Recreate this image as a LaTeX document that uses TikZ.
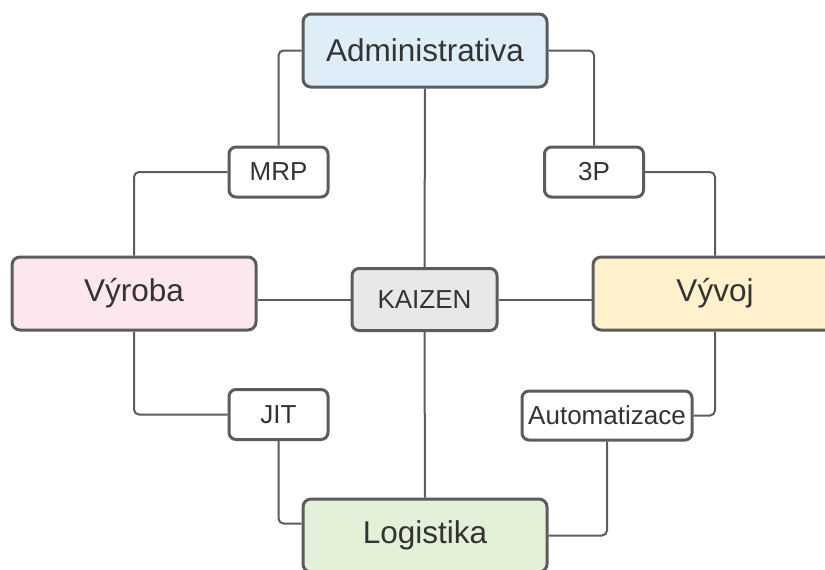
\documentclass[tikz,border=0pt]{standalone}
\usepackage{fontspec}
\setmainfont{Liberation Sans}
\definecolor{edge}{HTML}{5C5C5C}
\definecolor{ink}{HTML}{333333}
\definecolor{admfill}{HTML}{DDEEF8}
\definecolor{vyrfill}{HTML}{FCE7EE}
\definecolor{vyvfill}{HTML}{FFF1CC}
\definecolor{logfill}{HTML}{E2F1D8}
\definecolor{kaifill}{HTML}{E8E8E8}
\begin{document}
\begin{tikzpicture}[x=1pt,y=-1pt,
  area/.style={draw=edge, line width=3pt, rounded corners=8pt, text=ink,
    minimum width=244pt, minimum height=73pt, inner sep=0pt,
    font=\fontsize{31.5}{36}\selectfont},
  tool/.style={draw=edge, fill=white, line width=3pt, rounded corners=7pt, text=ink,
    minimum width=99pt, minimum height=50pt, inner sep=0pt,
    font=\fontsize{26}{30}\selectfont},
  conn/.style={draw=edge, line width=2pt, rounded corners=5pt}]
\useasboundingbox (0,0) rectangle (825,570);

% main areas
\node[area, fill=admfill] (adm) at (425,50.5) {Administrativa};
\node[area, fill=vyrfill] (vyr) at (134,293.5) {Výroba};
\node[area, fill=vyvfill] (vyv) at (715,293.5) {Vývoj};
\node[area, fill=logfill] (log) at (425,535.5) {Logistika};
\node[tool, fill=kaifill, minimum width=145pt, minimum height=62pt] (kai) at (424.5,299.5) {KAIZEN};

% tools
\node[tool] (mrp) at (278.5,172) {MRP};
\node[tool] (tp) at (594,172) {3P};
\node[tool] (jit) at (278.5,414.5) {JIT};
\node[tool, minimum width=170pt, minimum height=49pt] (aut) at (607,415.5) {Automatizace};

% connectors to the centre
\draw[conn] (adm.south) -- (kai.north);
\draw[conn] (kai.south) -- (log.north);
\draw[conn] (kai.west) -- (kai.west -| vyr.east);
\draw[conn] (kai.east) -- (kai.east -| vyv.west);

% ring of connectors
\draw[conn] (adm.west) -| (mrp.north);
\draw[conn] (adm.east) -| (tp.north);
\draw[conn] (mrp.west) -| (vyr.north);
\draw[conn] (tp.east) -| (vyv.north);
\draw[conn] (vyr.south) |- (jit.west);
\draw[conn] (vyv.south) |- (aut.east);
\draw[conn] (jit.south) |- ([yshift=12pt]log.west);
\draw[conn] (aut.south) |- (log.east);
\end{tikzpicture}
\end{document}
